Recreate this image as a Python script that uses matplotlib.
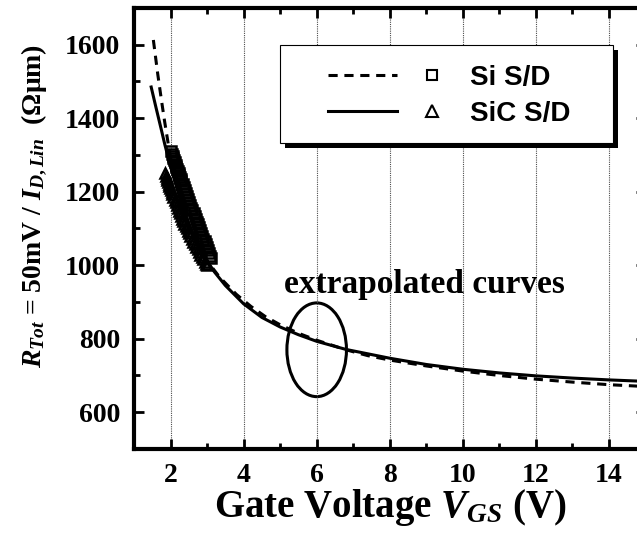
import matplotlib
matplotlib.use('Agg')
import matplotlib.pyplot as plt
import matplotlib.patheffects as pe
from matplotlib.lines import Line2D
from matplotlib.patches import Ellipse, Rectangle
from matplotlib.legend_handler import HandlerTuple

# values
si_curve_v = [1.53, 1.65, 1.75, 1.84, 1.97, 2.1, 2.3, 2.5, 2.75, 3.0, 3.34, 3.8, 4.2,
              4.6, 5.0, 5.5, 6.0, 6.8, 7.4, 8.0, 9.0, 10.0, 11.0, 12.0, 13.0, 14.0, 15.0]
si_curve_r = [1613, 1520, 1450, 1390, 1310, 1245, 1170, 1110, 1055, 1012, 968, 921, 888,
              860, 838, 815, 796, 770, 754, 742, 726, 712, 700, 690, 682, 675, 670]

sic_curve_v = [1.47, 1.6, 1.75, 1.84, 2.0, 2.2, 2.4, 2.6, 2.8, 3.0, 3.2, 3.5, 4.0,
               4.5, 5.0, 5.5, 6.0, 6.8, 7.5, 8.0, 9.0, 10.0, 11.0, 12.0, 13.0, 14.0, 15.0]
sic_curve_r = [1485, 1430, 1368, 1330, 1268, 1200, 1140, 1090, 1048, 1012, 982, 945, 895,
               858, 832, 811, 793, 771, 757, 747, 730, 717, 707, 699, 693, 688, 684]

si_meas_v = [2.02, 2.04, 2.06, 2.08, 2.10, 2.12, 2.14, 2.16, 2.18, 2.20, 2.22, 2.24, 2.26,
             2.28, 2.30, 2.33, 2.36, 2.39, 2.42, 2.45, 2.48, 2.51, 2.54, 2.57, 2.60, 2.63,
             2.66, 2.69, 2.72, 2.75, 2.78, 2.81, 2.84, 2.87, 2.90, 2.93, 2.96, 2.99, 3.02,
             3.05, 3.08, 3.10]
si_meas_r = [1310, 1304, 1298, 1292, 1286, 1280, 1274, 1268, 1262, 1257, 1251, 1246, 1240,
             1235, 1229, 1221, 1213, 1205, 1197, 1189, 1181, 1173, 1165, 1157, 1150, 1142,
             1134, 1126, 1118, 1111, 1103, 1096, 1088, 1080, 1072, 1065, 1057, 1049, 1041,
             1034, 1026, 1021]

sic_meas_v = [1.85, 1.87, 1.89, 1.91, 1.93, 1.95, 1.97, 1.99, 2.01, 2.03, 2.05, 2.08, 2.11,
              2.14, 2.17, 2.20, 2.23, 2.26, 2.29, 2.32, 2.35, 2.38, 2.41, 2.44, 2.47, 2.50,
              2.54, 2.58, 2.62, 2.66, 2.70, 2.74, 2.78, 2.82, 2.86, 2.90, 2.94, 2.97, 3.00]
sic_meas_r = [1250, 1244, 1238, 1233, 1227, 1222, 1216, 1211, 1205, 1200, 1194, 1186, 1178,
              1171, 1163, 1155, 1148, 1141, 1133, 1126, 1120, 1113, 1107, 1100, 1094, 1088,
              1080, 1072, 1064, 1057, 1050, 1043, 1036, 1029, 1022, 1016, 1009, 1004, 1000]

x_major = [2, 4, 6, 8, 10, 12, 14]
x_minor = [3, 5, 7, 9, 11, 13]
y_major = [600, 800, 1000, 1200, 1400, 1600]
y_minor = [700, 900, 1100, 1300, 1500]

plt.rcParams['font.family'] = 'Liberation Serif'
plt.rcParams['font.weight'] = 'bold'
plt.rcParams['axes.labelweight'] = 'bold'
plt.rcParams['mathtext.fontset'] = 'custom'
plt.rcParams['mathtext.rm'] = 'Liberation Serif:bold'
plt.rcParams['mathtext.it'] = 'Liberation Serif:italic:bold'
plt.rcParams['mathtext.bf'] = 'Liberation Serif:bold'

W, H = 637, 533
fig = plt.figure(figsize=(W / 100, H / 100), dpi=100)
ax = fig.add_axes([134 / W, 1 - 449 / H, 511.5 / W, 441 / H])

dash = (0, (3.0, 2.2))
ax.plot(si_curve_v, si_curve_r, color='k', lw=2.2, ls=dash)
ax.plot(sic_curve_v, sic_curve_r, color='k', lw=2.2)
ax.plot(si_meas_v, si_meas_r, ls='none', marker='s', ms=6.5, mfc='none', mec='k', mew=1.8)
ax.plot(sic_meas_v, sic_meas_r, ls='none', marker='^', ms=7.5, mfc='none', mec='k', mew=1.8)

ax.add_patch(Ellipse((6.0, 770), 1.63, 255, fill=False, ec='k', lw=2.2))
ax.text(8.96, 924, 'extrapolated curves', ha='center', va='baseline', fontsize=24)

ax.set_xlim(1, 15)
ax.set_ylim(500, 1700)
ax.set_xticks(x_major)
ax.set_xticks(x_minor, minor=True)
ax.set_yticks(y_major)
ax.set_yticks(y_minor, minor=True)
ax.tick_params(which='both', direction='in', top=True, right=True, width=2, labelsize=20, pad=10)
ax.tick_params(which='major', length=7)
ax.tick_params(which='minor', length=4)
for s in ax.spines.values():
    s.set_linewidth(3)
ax.grid(axis='x', which='major', color='0.3', ls=(0, (1, 1)), lw=0.8)

ax.set_xlabel(r'Gate Voltage $V_{GS}$ (V)', fontsize=28, labelpad=-1)
ax.set_ylabel(r'$R_{Tot}$ = 50mV / $I_{D,Lin}$  (Ωμm)', fontsize=20)
ax.yaxis.set_label_coords(-0.166, 0.551)

# legend frame with a solid black shadow
frame = Rectangle((280 / W, 1 - 143 / H), 333 / W, 98 / H, transform=fig.transFigure,
                  fc='white', ec='k', lw=0.8, zorder=3,
                  path_effects=[pe.SimplePatchShadow(offset=(3.6, -3.6), shadow_rgbFace='k', alpha=1),
                                pe.Normal()])
fig.add_artist(frame)

h_si = (Line2D([], [], color='k', lw=2.2, ls=dash),
        Line2D([], [], ls='none', marker='s', ms=7, mfc='none', mec='k', mew=1.5))
h_sic = (Line2D([], [], color='k', lw=2.2),
         Line2D([], [], ls='none', marker='^', ms=8, mfc='none', mec='k', mew=1.5))
fig.legend([h_si, h_sic], ['Si S/D', 'SiC S/D'],
           handler_map={tuple: HandlerTuple(ndivide=None, pad=0)},
           loc='upper left', bbox_to_anchor=(328 / W, 1 - 65 / H),
           borderpad=0, borderaxespad=0, frameon=False,
           handlelength=5.0, handletextpad=0.1, labelspacing=0.35,
           prop={'family': 'Liberation Sans', 'weight': 'bold', 'size': 20})

fig.savefig('out.png', dpi=100)
